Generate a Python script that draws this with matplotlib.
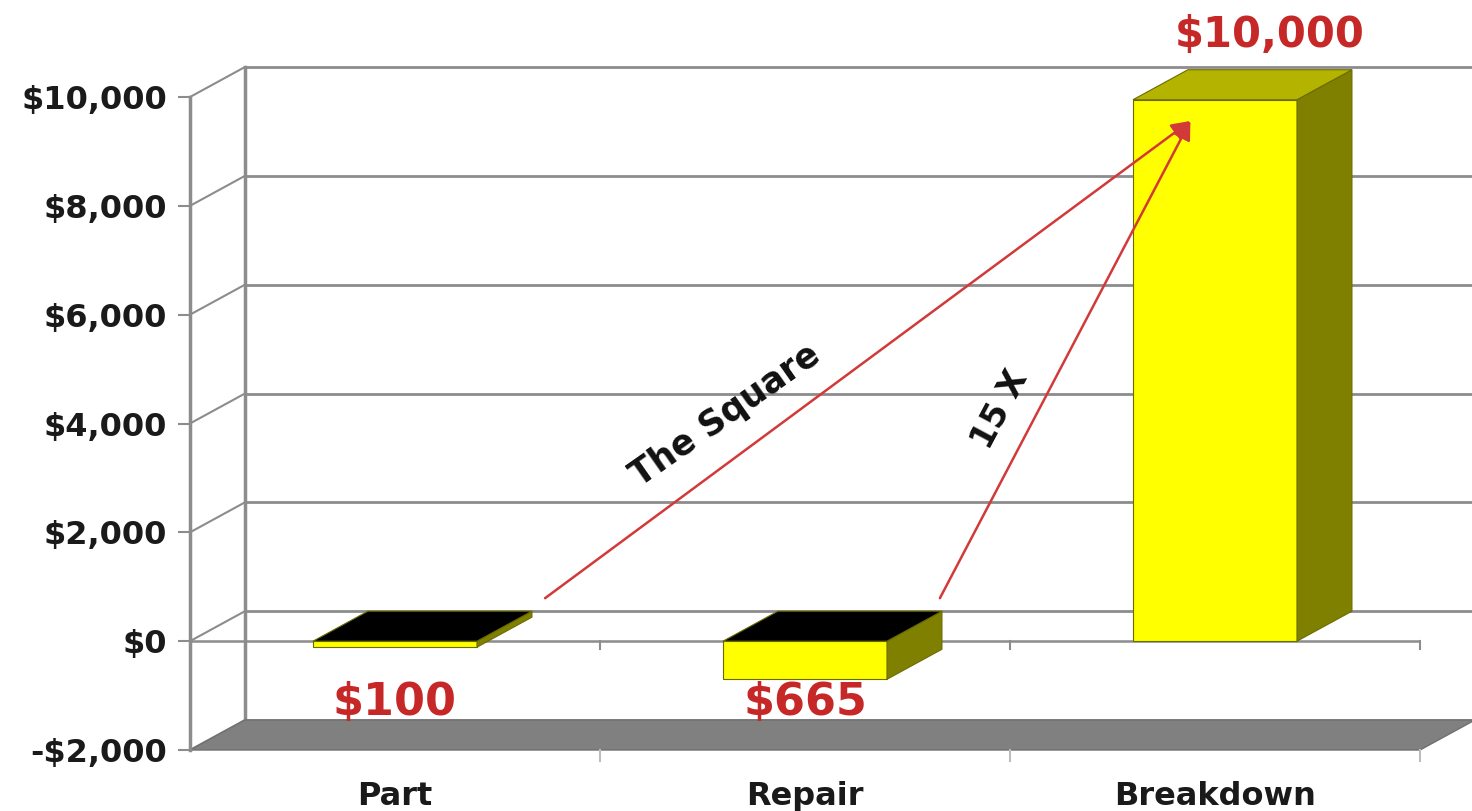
import matplotlib
matplotlib.use("Agg")
import matplotlib.pyplot as plt
from matplotlib.ticker import FuncFormatter

OUT_PATH = "out.png"

categories = ["Part", "Repair", "Breakdown"]
costs = [100, 665, 10000]
# bar heights as they appear in the (odd) 3-D rendering
bar_heights = [-110, -700, 9950]
yticks = [-2000, 0, 2000, 4000, 6000, 8000, 10000]

YELLOW = "#FFFF00"
SIDE = "#808000"
TOP_UP = "#B3B300"
EDGE = "#6b6b00"
GRID = "#8c8c8c"
RED = "#C62828"
ARROW = "#D23A3A"

BAR_W = 0.4
DDX = 0.134   # depth offset in x (category units)
DDY = 551     # depth offset in y (dollars)


def money(v, pos=None):
    v = int(v)
    return f"-${abs(v):,}" if v < 0 else f"${v:,}"


def draw_bar(ax, x, h):
    x0, x1 = x - BAR_W / 2, x + BAR_W / 2
    lo, hi = min(0, h), max(0, h)
    ax.bar(x, h, width=BAR_W, bottom=0, color=YELLOW, edgecolor=EDGE,
           linewidth=0.8, zorder=5)
    ax.fill([x1, x1 + DDX, x1 + DDX, x1], [lo, lo + DDY, hi + DDY, hi],
            color=SIDE, ec=EDGE, lw=0.8, zorder=5, clip_on=False)
    top = "black" if h < 0 else TOP_UP
    ax.fill([x0, x1, x1 + DDX, x0 + DDX], [hi, hi, hi + DDY, hi + DDY],
            color=top, ec=EDGE, lw=0.8, zorder=5, clip_on=False)


def main():
    plt.rcParams["font.family"] = ["DejaVu Sans"]
    plt.rcParams["font.weight"] = "bold"

    fig = plt.figure(figsize=(14.72, 8.11), dpi=100)
    fig.patch.set_facecolor("white")
    ax = fig.add_axes([190 / 1472, 61 / 811, 1230 / 1472, 653 / 811])
    ax.set_xlim(-0.5, 2.5)
    ax.set_ylim(-2000, 10000)
    ax.patch.set_alpha(0)

    # back wall gridlines and left wall diagonals
    bx = -0.5 + DDX
    for v in yticks:
        ax.plot([bx, 2.5 + DDX + 0.2], [v + DDY, v + DDY], color=GRID,
                lw=2, zorder=1, clip_on=False)
        ax.plot([-0.5, bx], [v, v + DDY], color=GRID, lw=1.5, zorder=1,
                clip_on=False)
    ax.plot([bx, bx], [yticks[0] + DDY, yticks[-1] + DDY], color=GRID,
            lw=2.5, zorder=1, clip_on=False)

    # floor
    f0 = yticks[0]
    ax.fill([-0.5, 2.5, 2.5 + DDX, -0.5 + DDX], [f0, f0, f0 + DDY, f0 + DDY],
            color="#808080", ec="#707070", lw=1, zorder=2, clip_on=False)

    # front zero line with category ticks
    ax.plot([-0.5, 2.5], [0, 0], color=GRID, lw=1.8, zorder=3)
    for b in [0.5, 1.5, 2.5]:
        ax.plot([b, b], [0, -140], color=GRID, lw=1.5, zorder=3, clip_on=False)
        ax.plot([b, b], [f0, f0 - 200], color="#bdbdbd", lw=1.5, zorder=3,
                clip_on=False)

    for i, h in enumerate(bar_heights):
        draw_bar(ax, i, h)

    # value labels
    for i, (c, h) in enumerate(zip(costs, bar_heights)):
        if h > 0:
            ax.text(i + DDX, h + DDY + 630, money(c), color=RED, fontsize=30,
                    ha="center", va="center", zorder=9, clip_on=False)
        else:
            ax.text(i, -1120, money(c), color=RED, fontsize=32,
                    ha="center", va="center", zorder=9)

    # arrows
    tip = (1.94, 9560)
    for start in [(0.366, 790), (1.329, 790)]:
        ax.annotate("", xy=tip, xytext=start, zorder=8,
                    arrowprops=dict(arrowstyle="-|>", color=ARROW, lw=1.8,
                                    mutation_scale=28, shrinkA=0, shrinkB=0))
    ax.text(0.805, 4150, "The Square", rotation=35, fontsize=25,
            ha="center", va="center", zorder=9, color="#111111")
    ax.text(1.476, 4250, "15 X", rotation=62, fontsize=24,
            ha="center", va="center", zorder=9, color="#111111")

    # axes styling
    for s in ["top", "right", "bottom"]:
        ax.spines[s].set_visible(False)
    ax.spines["left"].set_color(GRID)
    ax.spines["left"].set_linewidth(2.5)
    ax.set_yticks(yticks)
    ax.yaxis.set_major_formatter(FuncFormatter(money))
    ax.tick_params(axis="y", length=8.5, width=1.5, color=GRID, pad=8,
                   labelsize=23, labelcolor="#1a1a1a")
    ax.set_xticks(range(len(categories)))
    ax.set_xticklabels(categories)
    ax.tick_params(axis="x", length=0, pad=22, labelsize=23,
                   labelcolor="#1a1a1a")

    fig.savefig(OUT_PATH, dpi=100)
    plt.close(fig)


if __name__ == "__main__":
    main()
